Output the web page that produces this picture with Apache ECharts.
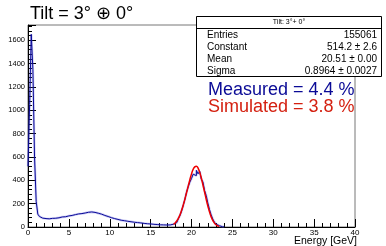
<!DOCTYPE html>
<html>
<head>
<meta charset="utf-8">
<script src="https://cdn.jsdelivr.net/npm/echarts@6/dist/echarts.min.js"></script>
<style>
  html, body { margin: 0; padding: 0; background: #fff; }
  #chart { width: 386px; height: 246px; }
</style>
</head>
<body>
<div id="chart"></div>
<script>
// histogram: bin low edges every 0.2 GeV, counts
const binWidth = 0.2;
const counts = [
    520, 1050, 1650, 1350, 600, 220, 110, 90, 76, 86,      // 0.0 - 1.8
    72, 84, 70, 83, 74, 88, 75, 89, 79, 92,                // 2.0 - 3.8
    86, 93, 88, 102, 95, 110, 99, 114, 106, 118,           // 4.0 - 5.8
    112, 124, 115, 131, 120, 137, 126, 140, 129, 138,      // 6.0 - 7.8
    125, 133, 118, 127, 110, 116, 99, 104, 90, 95,         // 8.0 - 9.8
    80, 87, 72, 79, 65, 71, 58, 65, 54, 59,                // 10.0 - 11.8
    49, 55, 45, 51, 41, 46, 38, 43, 35, 39,                // 12.0 - 13.8
    31, 36, 28, 33, 26, 30, 23, 27, 21, 25,                // 14.0 - 15.8
    19, 23, 18, 22, 17, 21, 18, 22, 24, 30,                // 16.0 - 17.8
    38, 52, 72, 100, 140, 188, 240, 300, 345, 385,         // 18.0 - 19.8
    415, 452, 440, 485, 455, 478, 410, 385, 312, 270,      // 20.0 - 21.8
    205, 150, 105, 68, 42, 24, 12, 6, 2, 1                 // 22.0 - 23.8
];

// gaussian fit curve
const fitX = [17.8, 18.0, 18.2, 18.4, 18.6, 18.8, 19.0, 19.2, 19.4, 19.6,
    19.8, 20.0, 20.2, 20.4, 20.6, 20.8, 21.0, 21.2, 21.4, 21.6,
    21.8, 22.0, 22.2, 22.4, 22.6, 22.8, 23.0, 23.2, 23.4];
const fitY = [22, 35, 52, 75, 105, 145, 190, 240, 295, 350,
    405, 455, 493, 515, 520, 505, 470, 420, 360, 300,
    238, 180, 130, 88, 56, 34, 19, 10, 5];

const statNames = ['Entries', 'Constant', 'Mean', 'Sigma'];
const statValues = ['155061', '514.2 \u00b1 2.6', '20.51 \u00b1 0.00', '0.8964 \u00b1 0.0027'];

const histData = counts.map((c, i) => [+(i * binWidth).toFixed(1), c]);
histData.push([+(counts.length * binWidth).toFixed(1), 0]);
const fitData = fitX.map((x, i) => [x, fitY[i]]);

const font = 'Liberation Sans, Arial, Helvetica, sans-serif';
const chart = echarts.init(document.getElementById('chart'));

const statText = [];
statNames.forEach((name, i) => {
    const y = 35.5 + i * 11.8;
    statText.push({
        type: 'text', x: 207, y: y, z: 11,
        style: {text: name, font: '10px ' + font, fill: '#000', textVerticalAlign: 'middle'}
    });
    statText.push({
        type: 'text', x: 377, y: y, z: 11,
        style: {text: statValues[i], font: '10px ' + font, fill: '#000',
            textAlign: 'right', textVerticalAlign: 'middle'}
    });
});

const option = {
    animation: false,
    grid: {
        left: 28, right: 31, top: 25, bottom: 19,
        outerBoundsMode: 'none',
        show: true, borderColor: '#777', borderWidth: 1
    },
    xAxis: {
        type: 'value',
        min: 0, max: 40, interval: 5,
        axisLine: {lineStyle: {color: '#000', width: 1}},
        axisTick: {inside: true, length: 8, lineStyle: {color: '#000'}},
        minorTick: {show: true, splitNumber: 5, length: 4, lineStyle: {color: '#000'}},
        splitLine: {show: false},
        axisLabel: {fontFamily: font, fontSize: 8, color: '#000', margin: 2}
    },
    yAxis: {
        type: 'value',
        min: 0, max: 1730, interval: 200,
        axisLine: {show: true, lineStyle: {color: '#000', width: 1}},
        axisTick: {show: true, inside: true, length: 8, lineStyle: {color: '#000'}},
        minorTick: {show: true, splitNumber: 5, length: 4, lineStyle: {color: '#000'}},
        splitLine: {show: false},
        axisLabel: {
            fontFamily: font, fontSize: 7.5, color: '#000', margin: 3,
            formatter: v => (v % 200 === 0 ? String(v) : '')
        }
    },
    series: [
        {
            type: 'line', data: histData, step: 'end', symbol: 'none',
            lineStyle: {color: 'rgba(90, 90, 220, 0.3)', width: 2.4}, z: 1
        },
        {
            type: 'line', data: histData, step: 'end', symbol: 'none',
            lineStyle: {color: '#0a0a98', width: 1}, z: 2
        },
        {
            type: 'line', data: fitData, smooth: true, symbol: 'none',
            lineStyle: {color: '#ee0000', width: 1.5}, z: 3
        }
    ],
    graphic: [
        {
            type: 'text', x: 30, y: 14.5,
            style: {text: 'Tilt = 3\u00b0 \u2295 0\u00b0', font: '18px ' + font, fill: '#000',
                textVerticalAlign: 'middle'}
        },
        {
            type: 'text', x: 357, y: 241,
            style: {text: 'Energy [GeV]', font: '10.5px ' + font, fill: '#000',
                textAlign: 'right', textVerticalAlign: 'middle'}
        },
        {
            type: 'rect', x: 196.5, y: 16.5, z: 10,
            shape: {width: 185, height: 60},
            style: {fill: '#fff', stroke: '#000', lineWidth: 1}
        },
        {
            type: 'line', z: 11,
            shape: {x1: 197, y1: 28.5, x2: 381, y2: 28.5},
            style: {stroke: '#000', lineWidth: 1}
        },
        {
            type: 'text', x: 289, y: 22.5, z: 11,
            style: {text: 'Tilt: 3\u00b0+ 0\u00b0', font: '7px ' + font, fill: '#000',
                textAlign: 'center', textVerticalAlign: 'middle'}
        },
        ...statText,
        {
            type: 'text', x: 208, y: 90, z: 11,
            style: {text: 'Measured = 4.4 %', font: '18px ' + font, fill: '#0a0a96',
                textVerticalAlign: 'middle'}
        },
        {
            type: 'text', x: 208, y: 107, z: 11,
            style: {text: 'Simulated = 3.8 %', font: '18px ' + font, fill: '#d42010',
                textVerticalAlign: 'middle'}
        }
    ]
};

chart.setOption(option);
</script>
</body>
</html>
